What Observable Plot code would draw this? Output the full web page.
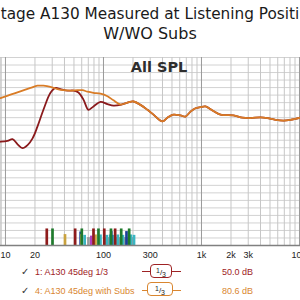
<!DOCTYPE html>
<html>
<head>
<meta charset="utf-8">
<script src="https://cdn.jsdelivr.net/npm/d3@7"></script>
<script src="https://cdn.jsdelivr.net/npm/@observablehq/plot@0.6"></script>
<style>
  html, body { margin: 0; padding: 0; background: #fff; width: 300px; height: 300px; overflow: hidden; }
  body { position: relative; font-family: "Liberation Sans", sans-serif; }
  #title { height: 50px; box-sizing: border-box; padding-top: 3.5px; text-align: center; font-family: "DejaVu Sans", sans-serif; color: #1a1a1a; white-space: nowrap; overflow: hidden; }
  #title .l1 { font-size: 15.3px; line-height: 20px; }
  #title .l2 { font-size: 16px; line-height: 20px; }
  #chart svg { display: block; }
  .row { position: absolute; left: 0; width: 300px; height: 16px; font-size: 9px; line-height: 12px; }
  .chk { position: absolute; left: 21px; font-family: "DejaVu Sans", sans-serif; font-size: 10px; color: #333; }
  .name { position: absolute; left: 35px; white-space: nowrap; }
  .val { position: absolute; left: 222px; white-space: nowrap; }
  .fl { position: absolute; height: 0; border-top: 1.5px solid; }
  .fbox { position: absolute; box-sizing: border-box; border: 1.5px solid; border-radius: 4px; background: #fff; font-size: 8px; color: #222; text-align: center; line-height: 11px; }
  .fbox sup { font-size: 7px; vertical-align: 2px; }
  .fbox sub { font-size: 7px; vertical-align: -2px; }
</style>
</head>
<body>
<div id="title"><div class="l1">tage A130 Measured at Listening Positi</div><div class="l2">W/WO Subs</div></div>
<div id="chart"></div>
<div id="legend"></div>
<script>
// ---- data ----
const orangeFreq = [8.9, 11.25, 14.2, 18.0, 21.2, 24.4, 28.8, 34.0, 39.1, 46.0, 54.3, 61.1, 68.7, 79.1, 93.2, 109.9, 126.5, 149, 175.8, 202, 238.6, 281, 323.8, 400, 449.8, 517.7, 610.6, 686.9, 772.6, 869, 977, 1099, 1295, 1563, 2122, 2620, 3162, 4000, 4710, 5690, 6870, 8090, 10240];
const orangeDb   = [84.2, 85.1, 86.0, 86.9, 87.5, 87.5, 87.2, 86.6, 86.3, 86.2, 86.3, 86.3, 85.9, 85.6, 85.4, 84.7, 83.6, 82.5, 83.0, 83.3, 82.4, 81.1, 79.8, 78.0, 79.0, 79.8, 79.6, 79.3, 80.6, 81.5, 81.8, 82.0, 80.9, 79.8, 79.6, 79.0, 78.9, 79.1, 78.9, 78.4, 78.2, 78.4, 79.0];
const redFreq = [8.9, 10.5, 11.8, 13.3, 14.9, 16.8, 18.9, 21.2, 24.4, 28.8, 32.4, 36.4, 42.9, 49.4, 55.6, 62.5, 70.3, 79.1, 93.2, 109.9, 126.5, 149, 175.8];
const redDb   = [72.6, 72.8, 73.3, 71.9, 70.9, 71.7, 73.5, 76.6, 81.1, 85.6, 86.9, 86.6, 86.2, 86.2, 85.7, 83.8, 81.1, 82.0, 83.2, 82.6, 82.2, 82.4, 83.0];

// room-mode markers at the bottom
const modeFreq  = [64.3, 93.2, 108, 117, 125, 140, 158, 190, 205, 58.5, 120.1, 171.8, 40.5, 59.6, 82.9, 75.1, 70.3, 26.4, 30.2, 51.4, 60.1, 79.1, 88.9, 101.9, 119.3, 131.5, 151.7, 182.9];
const modeLevel = [47.7, 47.8, 47.7, 47.8, 47.7, 47.8, 47.7, 47.8, 47.7, 48.6, 48.7, 48.7, 47.9, 47.9, 47.8, 47.5, 47.1, 49.4, 49.4, 49.4, 49.4, 49.4, 49.4, 49.4, 49.4, 49.4, 49.4, 49.4];
const modeColor = ["#3ab5c2", "#3ab5c2", "#3ab5c2", "#3ab5c2", "#3ab5c2", "#3ab5c2", "#3ab5c2", "#3ab5c2", "#3ab5c2", "#1c3d9c", "#1c3d9c", "#1c3d9c", "#c9a23e", "#c9a23e", "#c9a23e", "#b03fbf", "#9a9a9a", "#8e1b1b", "#1f7a2c", "#8e1b1b", "#1f7a2c", "#8e1b1b", "#1f7a2c", "#8e1b1b", "#1f7a2c", "#8e1b1b", "#1f7a2c", "#1f7a2c"];
const grayBlock = [{x1: 104.8, x2: 212, level: 47.1}];

const xTicks = [10, 20, 40, 60, 100, 300, 600, 1000, 2000, 3000, 5000, 7000];
const xTickLabels = ["10", "20", "40", "60", "100", "300", "600", "1k", "2k", "3k", "5k", "7k"];
const xEndTick = [10000];
const xEndLabel = "10";
const yGrid = d3.range(45, 95.1, 2);
const decades = [1, 10, 100, 1000];
const xGridMajor = [10, 100, 1000, 10000];
const xGridMinor = decades.flatMap(d => [2,3,4,5,6,7,8,9].map(k => k * d)).filter(v => v >= 8.9 && v <= 10240 && !xGridMajor.includes(v)).concat([9]);

const legendItems = [
  {name: "1: A130 45deg 1/3", value: "50.0 dB", color: "#9e2224"},
  {name: "4: A130 45deg with Subs", value: "80.6 dB", color: "#d9862f"}
];

// ---- build tables ----
const orange = orangeFreq.map((f, i) => ({f, db: orangeDb[i]}));
const red = redFreq.map((f, i) => ({f, db: redDb[i]})).concat(orange.filter(d => d.f > 175.8));
const modes = modeFreq.map((f, i) => ({f, level: modeLevel[i], color: modeColor[i]}));

const chart = Plot.plot({
  width: 300,
  height: 210,
  marginTop: 7,
  marginBottom: 15,
  marginLeft: 0,
  marginRight: 0,
  x: {type: "log", domain: [8.9, 10240]},
  y: {domain: [45, 95], axis: null},
  style: {fontFamily: "Liberation Sans, sans-serif", fontSize: "9px", background: "#fff", color: "#222"},
  marks: [
    Plot.ruleY(yGrid, {stroke: "#d2d2d2", strokeWidth: 1}),
    Plot.ruleX(xGridMinor, {stroke: "#c6c6c6", strokeWidth: 1}),
    Plot.ruleX(xGridMajor, {stroke: "#9a9a9a", strokeWidth: 1}),
    Plot.rectY(grayBlock, {x1: "x1", x2: "x2", y1: 45, y2: "level", fill: "#9a9a9a"}),
    Plot.ruleX(modes, {x: "f", y1: 45, y2: "level", stroke: "color", strokeWidth: 2.7}),
    Plot.ruleY([45], {stroke: "#808080", strokeWidth: 1.5}),
    Plot.line(red, {x: "f", y: "db", stroke: "#8a1a1c", strokeWidth: 1.8, curve: "catmull-rom"}),
    Plot.line(orange, {x: "f", y: "db", stroke: "#d97c26", strokeWidth: 1.8, curve: "catmull-rom"}),
    Plot.text(["All SPL"], {frameAnchor: "top", dx: 8.5, dy: 4, fontSize: 14.5, fontWeight: "bold", fontFamily: "DejaVu Sans, sans-serif", fill: "#2e2e2e"}),
    Plot.axisX({ticks: xTicks, tickFormat: d => xTickLabels[xTicks.indexOf(d)], tickSize: 0, tickPadding: 6, fontSize: 9, fill: "#222"}),
    Plot.axisX({ticks: xEndTick, tickFormat: () => xEndLabel, tickSize: 0, tickPadding: 6, fontSize: 9, fill: "#222", textAnchor: "end", dx: 2})
  ]
});
document.getElementById("chart").appendChild(chart);

// ---- legend ----
const legend = document.getElementById("legend");
const rowTops = [266, 284.5];
legendItems.forEach((it, i) => {
  const row = document.createElement("div");
  row.className = "row";
  row.style.top = rowTops[i] + "px";
  const boxLeft = i === 0 ? 150 : 147;
  const boxW = i === 0 ? 22 : 26;
  row.innerHTML =
    `<span class="chk">✓</span>` +
    `<span class="name" style="color:${it.color}">${it.name}</span>` +
    `<span class="fl" style="left:142px;width:${boxLeft - 142}px;top:5px;border-color:${it.color}"></span>` +
    `<span class="fl" style="left:${boxLeft + boxW}px;width:${181 - boxLeft - boxW}px;top:5px;border-color:${it.color}"></span>` +
    `<span class="fbox" style="left:${boxLeft}px;top:-2.5px;width:${boxW}px;height:14px;border-color:${it.color}"><sup>1</sup>/<sub>3</sub></span>` +
    `<span class="val" style="color:${it.color}">${it.value}</span>`;
  legend.appendChild(row);
});
</script>
</body>
</html>
